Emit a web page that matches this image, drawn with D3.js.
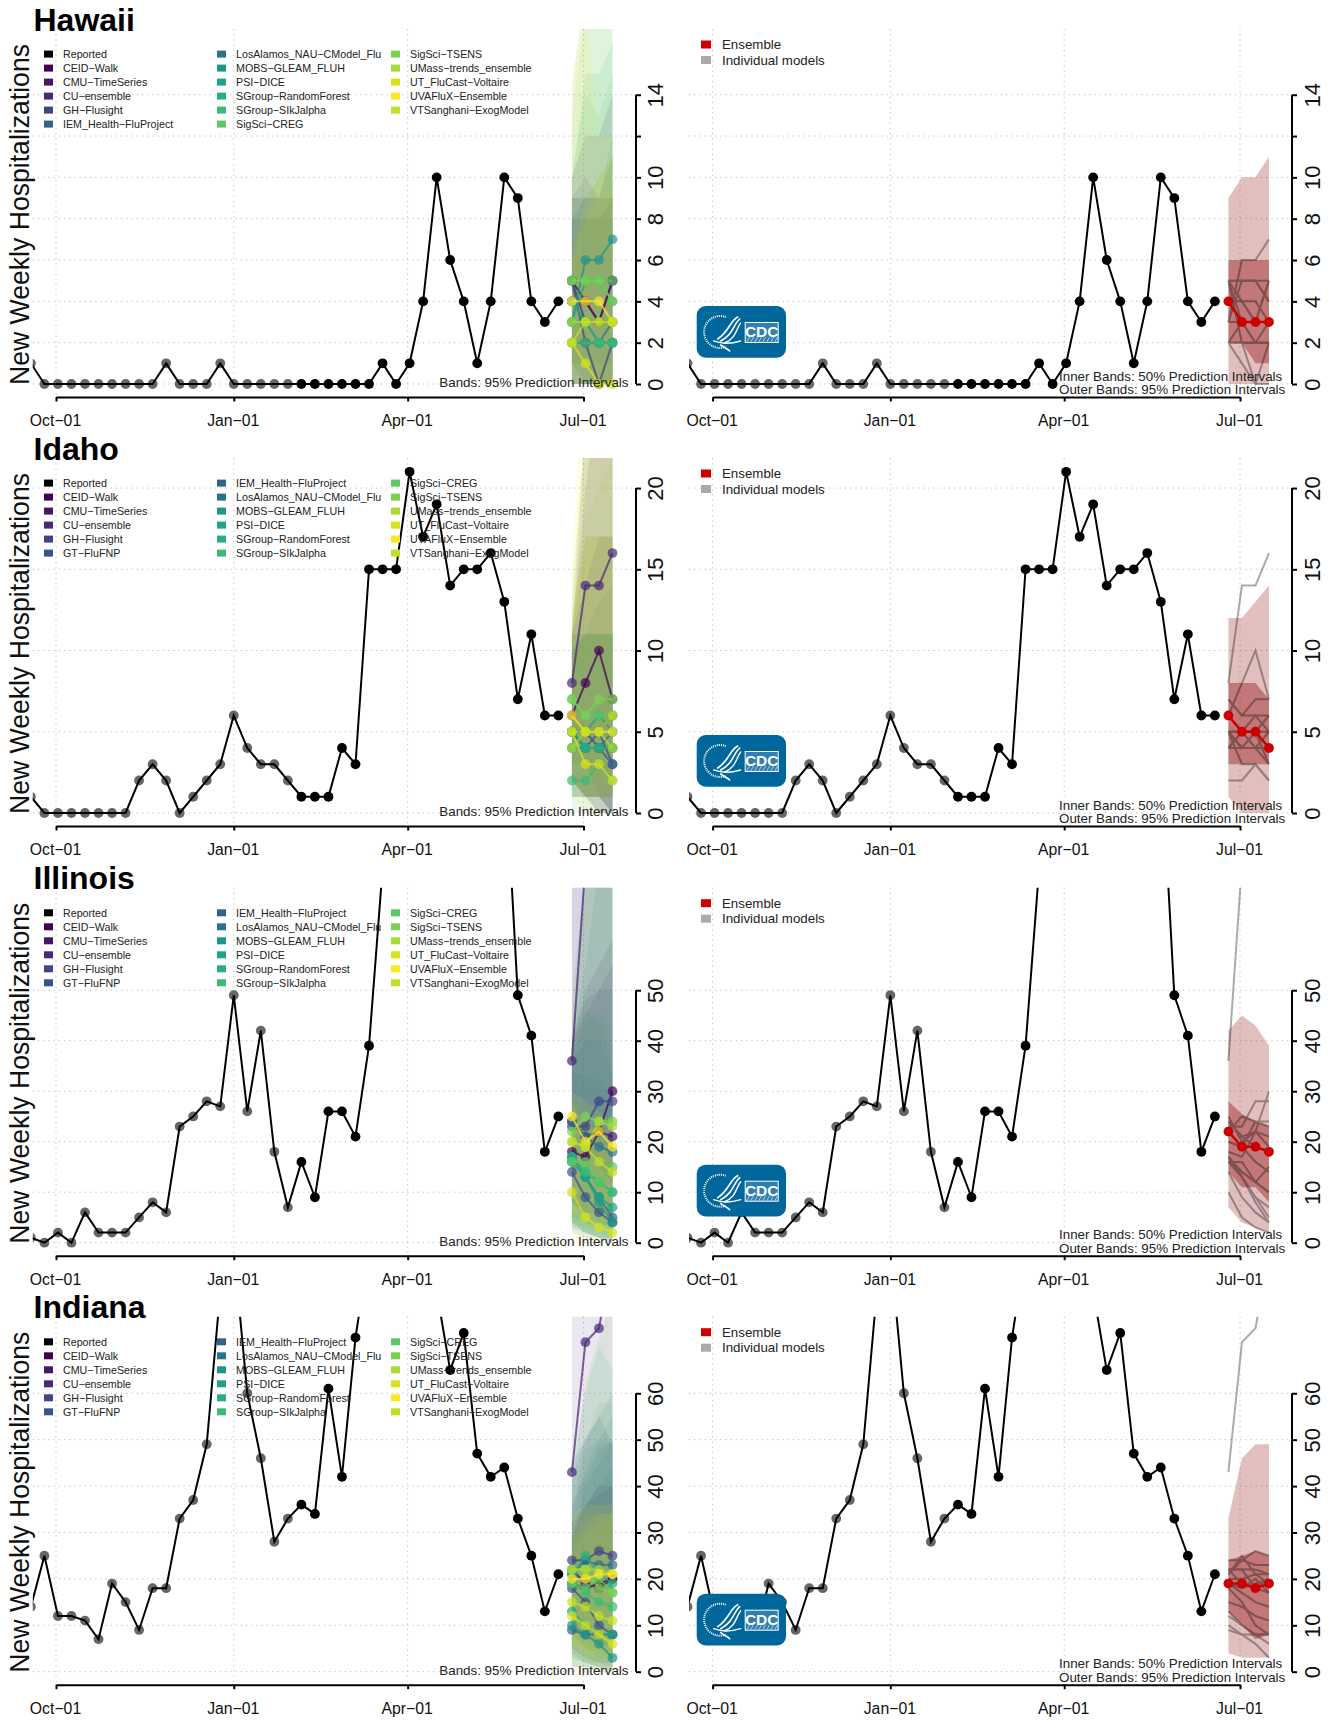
<!DOCTYPE html>
<html><head><meta charset="utf-8">
<script src="https://cdn.jsdelivr.net/npm/d3@7"></script>
<style>html,body{margin:0;padding:0;background:#fff}svg{display:block}text{font-family:"Liberation Sans",Arial,sans-serif}</style>
</head><body><svg id="c" width="1331" height="1720"></svg>
<script>
const stateNames = ["Hawaii","Idaho","Illinois","Indiana"];
const modelNames = ["CEID-Walk","CMU-TimeSeries","CU-ensemble","GH-Flusight","GT-FluFNP","IEM_Health-FluProject","LosAlamos_NAU-CModel_Flu","MOBS-GLEAM_FLUH","PSI-DICE","SGroup-RandomForest","SGroup-SIkJalpha","SigSci-CREG","SigSci-TSENS","UMass-trends_ensemble","UT_FluCast-Voltaire","UVAFluX-Ensemble","VTSanghani-ExogModel"];
const modelColors = ["#440154","#481668","#482878","#414487","#3B528B","#33638D","#2C728E","#1F968B","#20A386","#29AF7F","#3CBB75","#5DC863","#7AD151","#A8DB34","#D7E219","#FDE725","#C2DF23"];
const bandOrder = [5,6,7,8,4,0,1,9,10,11,12,2,13,14,3,15,16];
const tickMonths = ["2021-10-01","2022-01-01","2022-04-01","2022-07-01"];
const tickMonthLabels = ["Oct-01","Jan-01","Apr-01","Jul-01"];
const firstReported = "2021-09-18";
const forecastDates = ["2022-06-25","2022-07-02","2022-07-09","2022-07-16"];

const reportedHawaii = [1,0,0,0,0,0,0,0,0,0,1,0,0,0,1,0,0,0,0,0,0,0,0,0,0,0,1,0,1,4,10,6,4,1,4,10,9,4,3,4];
const reportedIdaho = [1,0,0,0,0,0,0,0,2,3,2,0,1,2,3,6,4,3,3,2,1,1,1,4,3,15,15,15,21,17,19,14,15,15,16,13,7,11,6,6];
const reportedIllinois = [1,0,2,0,6,2,2,2,5,8,6,23,25,28,27,49,26,42,18,7,16,9,26,26,21,39,74,92,110,130,140,130,120,110,104,98,49,41,18,25];
const reportedIndiana = [14,25,12,12,11,7,19,15,9,18,18,33,37,49,82,91,60,46,28,33,36,34,61,42,72,91,110,120,115,100,82,65,73,47,42,44,33,25,13,21];

const ticksHawaii = [0,2,4,6,8,10,12,14], labelsHawaii = [0,2,4,6,8,10,14];
const ticksIdaho = [0,5,10,15,20], ticksIllinois = [0,10,20,30,40,50], ticksIndiana = [0,10,20,30,40,50,60];
const yTops = [17.18, 21.85, 70.3, 76.5];
const zeroLines = [384, 813, 1242.7, 1671.7];

const ensembleHawaii = [4,3,3,3], inner50LoHawaii = [2,2,1,1], inner50HiHawaii = [6,6,6,6], outer95LoHawaii = [0,0,0,0], outer95HiHawaii = [9,10,10,11];
const ensembleIdaho = [6,5,5,4], inner50LoIdaho = [3,3,3,3], inner50HiIdaho = [8,8,8,7], outer95LoIdaho = [1,0,0,0], outer95HiIdaho = [12,12,13,14];
const ensembleIllinois = [22,19,19,18], inner50LoIllinois = [14,11,11,8], inner50HiIllinois = [28,25.5,24,23], outer95LoIllinois = [7,4,3,2], outer95HiIllinois = [42,45,43,39];
const ensembleIndiana = [19,19,18,19], inner50LoIndiana = [13,10,7,8], inner50HiIndiana = [24,25,26,25], outer95LoIndiana = [4,3,3,3], outer95HiIndiana = [33,46,49,49];

// model rows follow modelNames; null = model absent in that state
const medianHawaii = [[5,4,3,5],[4,4,3,5],[5,3,3,3],[5,2,0,2],null,[2,2,2,2],[4,3,2,3],[3,6,6,7],[3,5,5,4],[4,3,2,2],[2,2,2,2],[5,5,5,5],[5,5,5,4],[3,3,3,3],[2,1,0,0],[4,4,4,3],[2,3,3,3]];
const lowerHawaii = [[1,0,0,0],[1,1,0,0],[0,0,0,0],[0,0,0,0],null,[0,0,0,0],[0,0,0,0],[0,1,1,1],[0,0,0,0],[1,0,0,0],[0,0,0,0],[1,1,0,0],[0,0,0,0],[1,0,0,0],[0,0,0,0],[0,0,0,0],[0,1,0,0]];
const upperHawaii = [[8,8,8,9],[9,9,9,9],[10,12,12,14],[9,10,9,11],null,[7,8,8,8],[9,9,9,9],[8,9,9,12],[8,9,10,11],[10,15,15,16.5],[10,14,13,15],[14,20,20,22],[13,18,18,22],[7,8,9,10],[6,9,10,11],[15,18,12,12],[6,8,10,11]];

const medianIdaho = [[6,8,10,7],[5,5,5,6],[8,14,14,16],[5,5,4,4],[5,4,5,3],[5,4,4,3],[5,4,4,5],[4,4,4,4],[4,5,6,5],[5,4,4,4],[2,2,3,2],[7,6,6,6],[7,6,7,7],[4,5,5,4],[5,3,3,2],[6,5,5,5],[5,5,5,6]];
const lowerIdaho = [[2,1,1,0],[2,1,0,0],[3,3,1,1],[1,1,0,0],[2,1,1,0],[2,1,1,0],[2,1,1,1],[1,1,1,1],[1,1,1,1],[2,1,1,0],[0,0,0,0],[3,2,2,1],[3,2,2,2],[1,1,1,1],[1,0,0,0],[2,1,1,1],[2,1,1,1]];
const upperIdaho = [[11,20,26,24],[11,17,17,17],[11,24,30,36],[11,14,17,17],[10,11,13,14],[10,11,11,11],[11,11,11,11],[10,11,11,11],[11,11,11,11],[11,11,11,11],[10,11,11,11],[13,24,26,30],[12,18,20,22],[12,17,17,17],[14,24,28,30],[15,30,36,40],[12,17,17,17]];

const medianIllinois = [[18,17,22,30],[24,21,22,21],[36,75,90,100],[23,23,28,28],[14,9,6,4],[17,13,9,5],[24,21,19,18],[17,13,8,4],[16,13,9,7],[17,14,12,10],[16,14,12,10],[16,16,12,15],[22,25,24,24],[20,19,24,23],[10,5,3,2],[25,20,22,19],[20,19,16,14]];
const lowerIllinois = [[5,4,3,4],[8,5,4,3],[14,20,15,12],[8,6,6,5],[2,1,1,0],[4,2,1,0],[8,6,4,3],[3,2,1,0],[4,2,1,1],[4,3,2,1],[3,2,2,1],[4,2,1,1],[6,6,5,4],[5,3,3,2],[0,0,0,0],[6,5,4,3],[4,3,2,2]];
const upperIllinois = [[40,50,55,60],[40,48,50,55],[80,150,190,220],[70,80,80,80],[40,45,50,50],[34,33,32,28],[40,55,75,80],[36,40,40,34],[38,46,44,38],[36,44,46,42],[45,75,85,90],[42,70,90,100],[50,72,90,100],[26,24,22,20],[28,22,20,16],[30,28,26,24],[28,24,22,20]];

const medianIndiana = [[19,18,19,20],[22,19,18,20],[43,71,74,90],[24,24,26,25],[18,15,10,8],[9,8,8,8],[21,24,23,23],[10,8,6,3],[13,10,8,8],[21,25,21,19],[19,17,15,14],[19,18,20,17],[22,22,18,17],[22,22,22,21],[12,10,8,6],[20,20,21,21],[15,14,12,11]];
const lowerIndiana = [[5,3,2,2],[8,5,4,3],[18,25,20,15],[9,7,6,5],[4,2,1,0],[1,1,1,0],[8,6,5,4],[1,1,0,0],[3,2,1,1],[6,5,3,2],[3,2,2,1],[5,3,2,1],[6,4,3,2],[6,4,3,3],[0,0,0,0],[6,4,4,3],[3,2,1,1]];
const upperIndiana = [[30,36,40,40],[32,36,38,40],[80,150,170,220],[45,50,55,49],[36,42,48,50],[28,40,45,50],[42,50,55,60],[28,36,40,44],[32,44,50,55],[34,48,50,49],[44,60,70,65],[40,62,72,80],[36,50,58,58],[30,34,34,34],[26,30,32,34],[34,36,36,36],[28,32,34,34]];

const reportedAll = [reportedHawaii,reportedIdaho,reportedIllinois,reportedIndiana];
const medianAll = [medianHawaii,medianIdaho,medianIllinois,medianIndiana];
const lowerAll = [lowerHawaii,lowerIdaho,lowerIllinois,lowerIndiana];
const upperAll = [upperHawaii,upperIdaho,upperIllinois,upperIndiana];
const ensembleAll = [ensembleHawaii,ensembleIdaho,ensembleIllinois,ensembleIndiana];
const inner50LoAll = [inner50LoHawaii,inner50LoIdaho,inner50LoIllinois,inner50LoIndiana];
const inner50HiAll = [inner50HiHawaii,inner50HiIdaho,inner50HiIllinois,inner50HiIndiana];
const outer95LoAll = [outer95LoHawaii,outer95LoIdaho,outer95LoIllinois,outer95LoIndiana];
const outer95HiAll = [outer95HiHawaii,outer95HiIdaho,outer95HiIllinois,outer95HiIndiana];
const ticksAll = [ticksHawaii,ticksIdaho,ticksIllinois,ticksIndiana];

const minusify = s => String(s).replace(/-/g,"\u2212");
const svg = d3.select("#c");
const defs = svg.append("defs");
const parse = d3.utcParse("%Y-%m-%d");
const fDates = forecastDates.map(parse);
const rDates = d3.range(40).map(i => d3.utcDay.offset(parse(firstReported), 7*i));
const monthDates = tickMonths.map(parse);
const sides = [
 {name:"L", left:32.8, xr:[56,583.5], axisX:636, labelX:19},
 {name:"R", left:689, xr:[712.6,1240], axisX:1292, labelX:20}
];

stateNames.forEach((st, s) => {
  const z = zeroLines[s], top = z-355;
  const y = d3.scaleLinear().domain([0,yTops[s]]).range([z,top]);
  sides.forEach(side => {
    const x = d3.scaleUtc().domain([monthDates[0],monthDates[3]]).range(side.xr);
    const g = svg.append("g");
    const cid = `clip${s}${side.name}`;
    defs.append("clipPath").attr("id",cid).append("rect")
      .attr("x",side.left).attr("y",top).attr("width",side.axisX-side.left+20).attr("height",368);
    const grid = g.append("g").attr("stroke","#bdbdbd").attr("stroke-width",1).attr("stroke-dasharray","1.2 4");
    ticksAll[s].forEach(t => grid.append("line").attr("x1",side.left).attr("x2",side.axisX).attr("y1",y(t)).attr("y2",y(t)));
    monthDates.forEach(d => grid.append("line").attr("x1",x(d)).attr("x2",x(d)).attr("y1",top).attr("y2",z+13));
    const plot = g.append("g").attr("clip-path",`url(#${cid})`);
    const area = d3.area().x((d,i)=>x(fDates[i])).y0(d=>y(d[0])).y1(d=>y(d[1]));
    const line = d3.line().x((d,i)=>x(rDates[i])).y(d=>y(d));
    const fLine = d3.line().x((d,i)=>x(fDates[i])).y(d=>y(d));
    const rep = reportedAll[s];
    if (side.name==="L") {
      bandOrder.forEach(k=>{
        if(!medianAll[s][k]) return;
        const band = lowerAll[s][k].map((v,i)=>[v,upperAll[s][k][i]]);
        plot.append("path").attr("d",area(band)).attr("fill",modelColors[k]).attr("fill-opacity",0.11);
      });
    } else {
      const o = outer95LoAll[s].map((v,i)=>[v,outer95HiAll[s][i]]);
      const n = inner50LoAll[s].map((v,i)=>[v,inner50HiAll[s][i]]);
      plot.append("path").attr("d",area(o)).attr("fill","#8B0000").attr("fill-opacity",0.25);
      plot.append("path").attr("d",area(n)).attr("fill","#8B0000").attr("fill-opacity",0.37);
    }
    rep.forEach((v,i)=>plot.append("circle").attr("cx",x(rDates[i])).attr("cy",y(v)).attr("r",4.9).attr("fill",i<20?"#666":"#000"));
    plot.append("path").attr("d",line(rep)).attr("fill","none").attr("stroke","#000").attr("stroke-width",2);
    const greyLines = plot.append("g").attr("opacity",.33);
    modelNames.forEach((m,k)=>{
      const med = medianAll[s][k]; if(!med) return;
      if (side.name==="L") {
        plot.append("path").attr("d",fLine(med)).attr("fill","none").attr("stroke",modelColors[k]).attr("stroke-opacity",.72).attr("stroke-width",2);
        med.forEach((v,i)=>plot.append("circle").attr("cx",x(fDates[i])).attr("cy",y(v)).attr("r",4.9).attr("fill",modelColors[k]).attr("fill-opacity",.7));
      } else {
        greyLines.append("path").attr("d",fLine(med)).attr("fill","none").attr("stroke","#000").attr("stroke-width",2);
      }
    });
    if (side.name==="R") {
      plot.append("path").attr("d",fLine(ensembleAll[s])).attr("fill","none").attr("stroke","#CC0000").attr("stroke-width",2.4);
      ensembleAll[s].forEach((v,i)=>plot.append("circle").attr("cx",x(fDates[i])).attr("cy",y(v)).attr("r",4.9).attr("fill","#CC0000"));
    }
    const ax = d3.axisBottom(x).tickValues(monthDates).tickSize(4.5).tickSizeOuter(0).tickFormat((d,i)=>minusify(tickMonthLabels[i]));
    const axG = g.append("g").attr("transform",`translate(0,${z+13})`).call(ax);
    axG.select(".domain").attr("stroke","#000").attr("stroke-width",2);
    axG.selectAll(".tick line").attr("stroke","#000").attr("stroke-width",2);
    axG.selectAll("text").attr("font-size",15.8).attr("fill","#111").attr("y",0).attr("dy",0).attr("transform","translate(-1,29)").attr("font-family","'Liberation Sans'");
    const labelled = s===0 ? labelsHawaii : ticksAll[s];
    const ay = d3.axisRight(y).tickValues(ticksAll[s]).tickSize(5).tickSizeOuter(0).tickFormat(d=>labelled.includes(d)?d:"");
    const ayG = g.append("g").attr("transform",`translate(${side.axisX},0)`).call(ay);
    ayG.select(".domain").attr("stroke","#000").attr("stroke-width",2).attr("d",`M0,${y(d3.max(ticksAll[s]))}V${y(0)}`);
    ayG.selectAll(".tick line").attr("stroke","#000").attr("stroke-width",2);
    ayG.selectAll("text").attr("font-size",22).attr("fill","#111").attr("x",0).attr("dy",0).attr("y",0)
      .attr("text-anchor","middle").attr("transform",`translate(${side.labelX+8},0) rotate(-90)`).attr("font-family","'Liberation Sans'");
    if (side.name==="L") {
      g.append("text").attr("x",33.5).attr("y",z-353.5).attr("font-size",32).attr("font-weight","bold").attr("fill","#000").text(st);
      g.append("text").attr("transform",`translate(29,${z+1}) rotate(-90)`).attr("font-size",28).attr("fill","#111")
        .attr("textLength",341).attr("lengthAdjust","spacingAndGlyphs").text("New Weekly Hospitalizations");
      g.append("text").attr("x",628.5).attr("y",z+3).attr("text-anchor","end").attr("font-size",13.35).attr("fill","#222").text("Bands: 95% Prediction Intervals");
      const entries = [["Reported","#000"]];
      modelNames.forEach((m,k)=>{ if(medianAll[s][k]) entries.push([m,modelColors[k]]); });
      const colX = [44,217,391];
      entries.forEach((e,i)=>{
        const c = Math.floor(i/6), r = i%6, ly = z-329.7+r*14;
        g.append("rect").attr("x",colX[c]).attr("y",ly-3.7).attr("width",9).attr("height",7).attr("fill",e[1]);
        g.append("text").attr("x",colX[c]+19).attr("y",ly+3.7).attr("font-size",10.7).attr("fill","#222").text(minusify(e[0]));
      });
    } else {
      g.append("text").attr("x",1059).attr("y",z-3.5).attr("font-size",13.35).attr("fill","#222").text("Inner Bands: 50% Prediction Intervals");
      g.append("text").attr("x",1059).attr("y",z+10).attr("font-size",13.35).attr("fill","#222").text("Outer Bands: 95% Prediction Intervals");
      [["Ensemble","#CC0000"],["Individual models","#AAAAAA"]].forEach((e,i)=>{
        const ly = z-339.5+i*15.5;
        g.append("rect").attr("x",701).attr("y",ly-4).attr("width",10).attr("height",8).attr("fill",e[1]);
        g.append("text").attr("x",722).attr("y",ly+4.6).attr("font-size",13.3).attr("fill","#222").text(e[0]);
      });
      drawLogo(g.append("g").attr("transform",`translate(696.7,${z-78})`));
    }
  });
});

function drawLogo(l){
  l.append("rect").attr("width",89.3).attr("height",51.7).attr("rx",9).attr("fill","#00679C");
  l.append("path").attr("d","M 29 11 A 16 16 0 1 0 29 41").attr("fill","none").attr("stroke","#fff").attr("stroke-width",2).attr("stroke-dasharray","1 1");
  [["M 41 11 C 33 15, 33 25, 21 33",1.6],["M 43 13 C 36 19, 37 28, 24 35",1.6],["M 44 17 C 39 23, 40 32, 28 37",1.4],["M 17 35 C 24 37, 30 39, 44 35",1.4],["M 24 39 C 28 42, 31 43, 33 45",1.6]].forEach(p=>
    l.append("path").attr("d",p[0]).attr("fill","none").attr("stroke","#fff").attr("stroke-width",p[1]).attr("stroke-linecap","round"));
  l.append("rect").attr("x",48.5).attr("y",16.5).attr("width",33).attr("height",20).attr("fill","#2f7fb0").attr("stroke","#fff").attr("stroke-width",1);
  d3.range(8).forEach(i=>l.append("line").attr("x1",50+i*4).attr("x2",53+i*4).attr("y1",36).attr("y2",31).attr("stroke","#fff").attr("stroke-width",.6));
  l.append("text").attr("x",65).attr("y",31).attr("text-anchor","middle").attr("font-size",15.5).attr("font-weight","bold").attr("font-family","'Liberation Serif'").attr("fill","#fff").text("CDC");
}
</script></body></html>
